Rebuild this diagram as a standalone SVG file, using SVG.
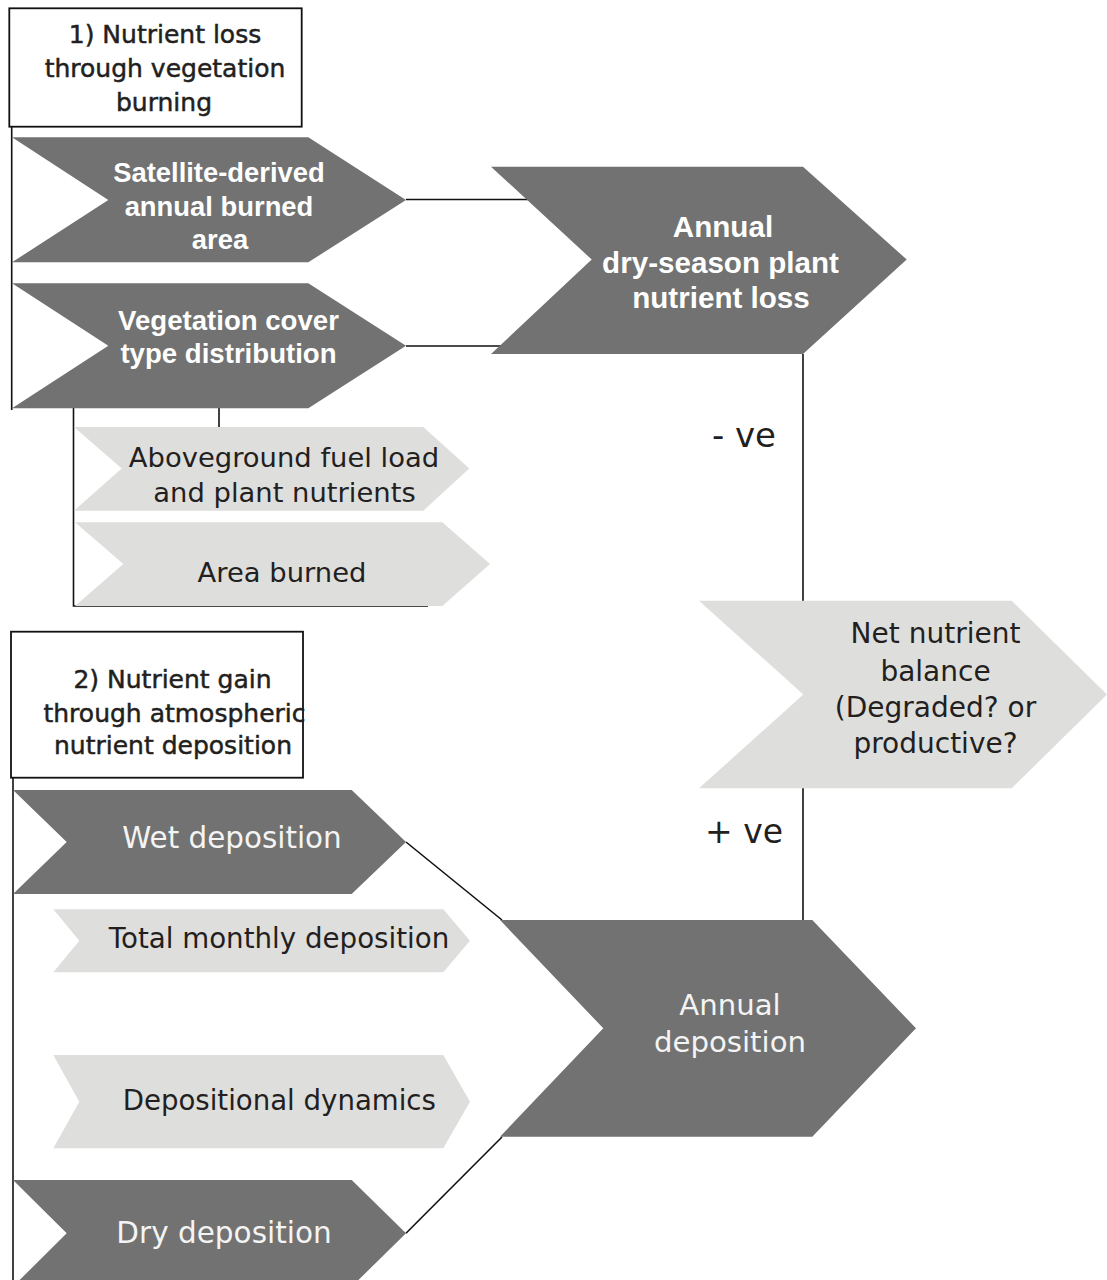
<svg xmlns="http://www.w3.org/2000/svg" width="1107" height="1280" viewBox="0 0 1107 1280">
<style>
.dark{fill:#717271}
.light{fill:#dededd}
.box{fill:#ffffff;stroke:#111111;stroke-width:1.8}
.ln{fill:none;stroke:#111111;stroke-width:1.6}
.bt{font-family:"Liberation Sans",Arial,sans-serif;font-weight:bold;fill:#ffffff;text-anchor:middle}
.rw{font-family:"DejaVu Sans",Verdana,sans-serif;fill:#f4f4f4;text-anchor:middle}
.rd{font-family:"DejaVu Sans",Verdana,sans-serif;fill:#231f20;text-anchor:middle}
.tt{stroke:#231f20;stroke-width:0.5}
</style>
<rect width="1107" height="1280" fill="#ffffff"/>
<g id="connectors">
<path class="ln" d="M11.7,96.7 V410"/>
<path class="ln" d="M406,199.5 H540"/>
<path class="ln" d="M406,346 H510"/>
<path class="ln" d="M73.5,408 V606 H428"/>
<path class="ln" d="M219,408 V427"/>
<path class="ln" d="M803,354 V601"/>
<path class="ln" d="M803,788 V920"/>
<path class="ln" d="M13,741 V1280"/>
<path class="ln" d="M406,842 L502,920"/>
<path class="ln" d="M406,1233.3 L502,1137"/>
</g>
<g id="box1">
<rect class="box" x="9.3" y="8.3" width="292.4" height="118.4"/>
<text class="rd tt" font-size="25" x="165"><tspan x="165" y="43.3">1) Nutrient loss</tspan><tspan x="165" y="77.3">through vegetation</tspan><tspan x="164" y="110.5">burning</tspan></text>
</g>
<g id="satellite">
<path class="dark" d="M12,137.3 L308.3,137.3 L406,200 L308.3,262.3 L12,262.3 L108.3,200 Z"/>
<text class="bt" font-size="27.4"><tspan x="219" y="182.3">Satellite-derived</tspan><tspan x="219" y="215.7">annual burned</tspan><tspan x="220" y="248.5">area</tspan></text>
</g>
<g id="vegetation">
<path class="dark" d="M12,283.3 L308.3,283.3 L406,345.7 L308.3,408.3 L12,408.3 L108.3,345.7 Z"/>
<text class="bt" font-size="27.6"><tspan x="228.5" y="330">Vegetation cover</tspan><tspan x="228.5" y="362.7">type distribution</tspan></text>
</g>
<g id="annual-loss">
<path class="dark" d="M491,166.7 L803,166.7 L906.7,259.5 L803,354 L491,354 L591.7,259.5 Z"/>
<text class="bt" font-size="29.6"><tspan x="723" y="237.3">Annual</tspan><tspan x="720.5" y="272.7">dry-season plant</tspan><tspan x="721" y="308">nutrient loss</tspan></text>
</g>
<g id="aboveground">
<path class="light" d="M74,427 L423.3,427 L469.3,468.5 L423.3,510.7 L74,510.7 L121.7,468.5 Z"/>
<text class="rd" font-size="27.4"><tspan x="284" y="466.7">Aboveground fuel load</tspan><tspan x="284.5" y="501.7">and plant nutrients</tspan></text>
</g>
<g id="area-burned">
<path class="light" d="M75,522.3 L442.3,522.3 L490,564 L442.3,606 L75,606 L123.3,564 Z"/>
<text class="rd" font-size="27.4" x="282" y="581.7">Area burned</text>
</g>
<g id="minus-ve">
<text class="rd" font-size="34" x="776" y="447" style="text-anchor:end">- ve</text>
</g>
<g id="net-balance">
<path class="light" d="M699,600.7 L1011.7,600.7 L1107,694.5 L1011.7,788.3 L699,788.3 L803.3,694.5 Z"/>
<text class="rd" font-size="28"><tspan x="935.5" y="643.3">Net nutrient</tspan><tspan x="935.5" y="680.7">balance</tspan><tspan x="935.5" y="716.7">(Degraded? or</tspan><tspan x="935.5" y="752.7">productive?</tspan></text>
</g>
<g id="plus-ve">
<text class="rd" font-size="33" x="783" y="843.3" style="text-anchor:end">+ ve</text>
</g>
<g id="box2">
<rect class="box" x="11" y="631.7" width="292" height="146"/>
<text class="rd tt" font-size="25"><tspan x="172.5" y="688.3">2) Nutrient gain</tspan><tspan x="174.5" y="721.7">through atmospheric</tspan><tspan x="173" y="754.3">nutrient deposition</tspan></text>
</g>
<g id="wet">
<path class="dark" d="M13,790 L351.7,790 L406,842 L351.7,894 L13,894 L66.7,842 Z"/>
<text class="rw" font-size="29.4" x="232" y="848.3">Wet deposition</text>
</g>
<g id="total-monthly">
<path class="light" d="M53.3,909.3 L443.3,909.3 L470,940.8 L443.3,972.3 L53.3,972.3 L79.3,940.8 Z"/>
<text class="rd" font-size="27.7" x="279" y="947.7">Total monthly deposition</text>
</g>
<g id="depositional">
<path class="light" d="M53.3,1055 L443.3,1055 L470,1101.7 L443.3,1148.3 L53.3,1148.3 L79.3,1101.7 Z"/>
<text class="rd" font-size="27.6" x="279.3" y="1110">Depositional dynamics</text>
</g>
<g id="dry">
<path class="dark" d="M13,1180 L351.7,1180 L406,1233.3 L351.7,1286.6 L13,1286.6 L66.7,1233.3 Z"/>
<text class="rw" font-size="29.5" x="224" y="1243.3">Dry deposition</text>
</g>
<g id="annual-deposition">
<path class="dark" d="M500,920 L812.3,920 L916,1028.3 L812.3,1136.7 L500,1136.7 L603.3,1028.3 Z"/>
<text class="rw" font-size="29.2"><tspan x="730" y="1015">Annual</tspan><tspan x="730" y="1051.7">deposition</tspan></text>
</g>
</svg>
